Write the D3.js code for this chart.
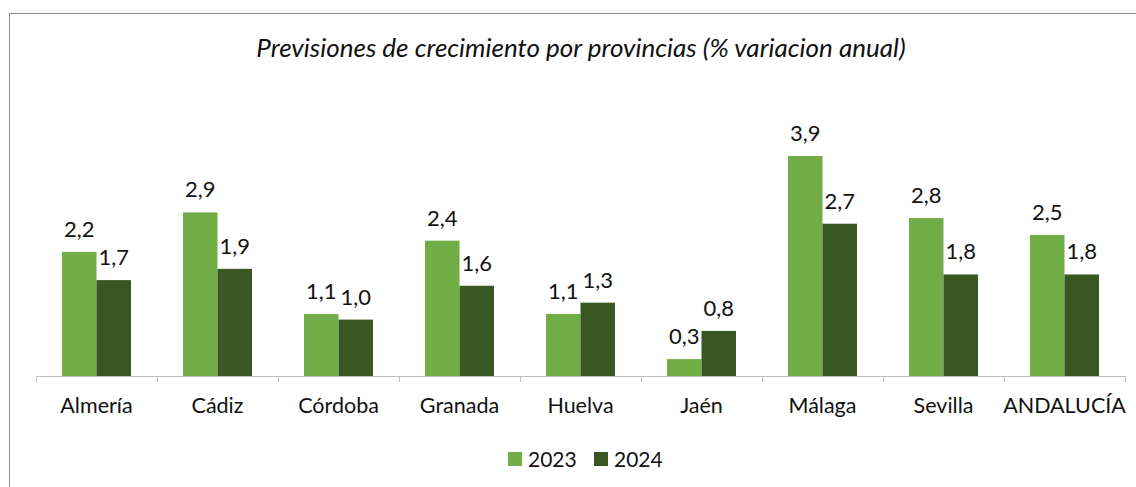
<!DOCTYPE html>
<html>
<head>
<meta charset="utf-8">
<script src="https://cdn.jsdelivr.net/npm/d3@7.9.0/dist/d3.min.js"></script>
<style>
  html, body { margin: 0; padding: 0; background: #fff; }
  svg { display: block; font-family: Lato, "Open Sans", sans-serif; }
</style>
</head>
<body>
<svg id="chart" width="1136" height="487"></svg>
<script>
// ---- data ----
const provincias = ['Almería', 'Cádiz', 'Córdoba', 'Granada', 'Huelva', 'Jaén', 'Málaga', 'Sevilla', 'ANDALUCÍA'];
const years = ['2023', '2024'];
const values2023 = [2.2, 2.9, 1.1, 2.4, 1.1, 0.3, 3.9, 2.8, 2.5];
const values2024 = [1.7, 1.9, 1.0, 1.6, 1.3, 0.8, 2.7, 1.8, 1.8];
const colors = ['#70ad47', '#385723'];

const rows = provincias.map((p, i) => ({ p, vals: [values2023[i], values2024[i]] }));

const svg = d3.select('#chart');

// frame (cropped at right / bottom like the original)
svg.append('rect')
  .attr('x', 9.5).attr('y', 13.5)
  .attr('width', 1200).attr('height', 600)
  .attr('fill', 'none').attr('stroke', '#8c8c8c').attr('stroke-width', 1);

// title
svg.append('text')
  .attr('x', 581).attr('y', 57)
  .attr('text-anchor', 'middle')
  .attr('font-style', 'italic')
  .attr('font-size', 26)
  .attr('fill', '#111')
  .text('Previsiones de crecimiento por provincias (% variacion anual)');

// scales
const x = d3.scaleBand().domain(provincias).range([36, 1125]).paddingInner(0).paddingOuter(0);
const xs = d3.scaleBand().domain(years).range([26, x.bandwidth() - 26]);
const y = d3.scaleLinear().domain([0, 4]).range([376, 150.4]);

// bars
const g = svg.append('g');
const groups = g.selectAll('g.grp')
  .data(rows)
  .join('g')
  .attr('class', 'grp')
  .attr('transform', d => `translate(${x(d.p)},0)`);

groups.selectAll('rect')
  .data(d => d.vals.map((v, k) => ({ v, k })))
  .join('rect')
  .attr('x', d => xs(years[d.k]))
  .attr('y', d => y(d.v))
  .attr('width', xs.bandwidth())
  .attr('height', d => y(0) - y(d.v))
  .attr('fill', d => colors[d.k]);

// value labels
groups.selectAll('text')
  .data(d => d.vals.map((v, k) => ({ v, k })))
  .join('text')
  .attr('x', d => xs(years[d.k]) + xs.bandwidth() / 2)
  .attr('y', d => y(d.v) - 15)
  .attr('text-anchor', 'middle')
  .attr('font-size', 22)
  .attr('fill', '#111')
  .text(d => d3.format('.1f')(d.v).replace('.', ','));

// axis
const axis = svg.append('g')
  .attr('transform', `translate(0,${y(0)})`)
  .call(d3.axisBottom(x).tickSize(0).tickPadding(22));
axis.select('.domain').attr('stroke', '#bfbfbf').attr('d', `M${x.range()[0]},0.5H${x.range()[1]}`);
axis.selectAll('text')
  .attr('font-size', 21.5)
  .attr('font-family', 'Lato, "Open Sans", sans-serif')
  .attr('fill', '#111');

// tick marks between categories
svg.append('g')
  .selectAll('line')
  .data(provincias.concat(['__end']))
  .join('line')
  .attr('x1', (d, i) => x.range()[0] + i * x.step() + 0.5)
  .attr('x2', (d, i) => x.range()[0] + i * x.step() + 0.5)
  .attr('y1', y(0)).attr('y2', y(0) + 6)
  .attr('stroke', '#bfbfbf');

// legend
const legend = svg.append('g').attr('transform', 'translate(508,452)');
const items = legend.selectAll('g')
  .data(years)
  .join('g')
  .attr('transform', (d, i) => `translate(${i * 86},0)`);
items.append('rect')
  .attr('width', 14).attr('height', 14)
  .attr('fill', (d, i) => colors[i]);
items.append('text')
  .attr('x', 20).attr('y', 15)
  .attr('font-size', 21)
  .attr('fill', '#111')
  .text(d => d);
</script>
</body>
</html>
